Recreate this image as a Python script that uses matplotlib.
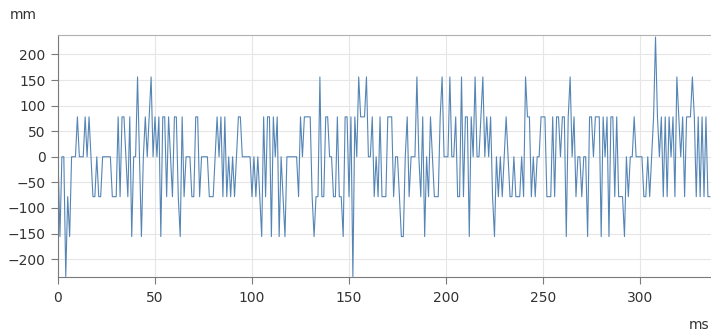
import matplotlib
matplotlib.use("Agg")
import matplotlib.pyplot as plt
import numpy as np

# one sample per ms (mm)
values = [
    0, -156, 0, 0, -234, -78, -156, 0, 0, 0,            # 0-9
    78, 0, 0, 0, 78, 0, 78, 0, -78, -78,                # 10-19
    0, -78, -78, 0, 0, 0, 0, 0, -78, -78,               # 20-29
    -78, 78, -78, 78, 78, 0, -78, 78, -156, 0,          # 30-39
    0, 156, 0, -156, 0, 78, 0, 78, 156, 0,              # 40-49
    78, 0, 78, -156, 78, 78, -78, 78, 0, -78,           # 50-59
    78, 78, -78, -156, 78, -78, 0, 0, 0, -78,           # 60-69
    -78, 78, 78, -78, 0, 0, 0, 0, -78, -78,             # 70-79
    -78, 0, 78, 0, 78, -78, 78, -78, 0, -78,            # 80-89
    0, -78, 0, 78, 78, 0, 0, 0, 0, 0,                   # 90-99
    -78, 0, -78, 0, -78, -156, 78, -78, 78, 78,         # 100-109
    -156, 78, 0, 78, -156, 0, -78, -156, 0, 0,          # 110-119
    0, 0, 0, 0, -78, 78, 0, 78, 78, 78,                 # 120-129
    78, -78, -156, -78, -78, 156, -78, -78, 78, 78,     # 130-139
    0, 0, -78, -78, 78, -78, -78, -156, 78, 78,         # 140-149
    -78, 78, -234, 78, 0, 156, 78, 78, 78, 156,         # 150-159
    0, 0, 78, -78, 0, -78, 78, -78, -78, -78,           # 160-169
    78, 78, 78, -78, 0, 0, -78, -156, -156, 0,          # 170-179
    78, -78, 0, 0, 0, 156, 0, -78, 78, -156,            # 180-189
    0, -78, 78, 0, -78, -78, -78, 78, 156, 0,           # 190-199
    0, 0, 156, 0, 0, 78, -78, -78, 156, -78,            # 200-209
    78, 78, -156, 78, 0, 156, 0, 0, 78, 156,            # 210-219
    0, 78, 0, 78, -78, -156, 0, -78, 0, -78,            # 220-229
    0, 78, 0, -78, -78, 0, -78, -78, -78, 0,            # 230-239
    -78, 156, 78, 78, -78, 0, -78, 0, 0, 78,            # 240-249
    78, 78, -78, -78, -78, 78, -78, 78, 78, 0,          # 250-259
    78, 78, -156, 78, 156, 0, 78, -78, 0, 0,            # 260-269
    -78, 0, 0, -156, 78, 78, 0, 78, 78, 78,             # 270-279
    -156, 78, 0, 78, -156, 78, 78, -78, 78, -78,        # 280-289
    -78, -78, -156, 0, -78, 0, 0, 78, 0, 0,             # 290-299
    0, 0, -78, -78, 0, -78, 0, 78, 234, 78,             # 300-309
    0, 78, -78, 78, -78, 78, 0, 78, -78, 156,           # 310-319
    78, 0, 78, -78, 78, 78, 78, 156, 78, -78,           # 320-329
    78, -78, 78, -78, 78, -78, -78,                     # 330-336
]
ms = np.arange(len(values))

fig = plt.figure(figsize=(7.11, 3.33), dpi=100)
ax = fig.add_axes([58 / 711, (333 - 277) / 333, (711 - 58) / 711, (277 - 35) / 333])

ax.plot(ms, values, color="#5585b5", linewidth=0.8)

ax.set_xlim(0, 336.6)
ax.set_ylim(-235, 238)
ax.set_xticks([0, 50, 100, 150, 200, 250, 300])
ax.set_yticks([-200, -150, -100, -50, 0, 50, 100, 150, 200])

ax.grid(True, color="#e6e6e6", linewidth=0.8)
ax.set_axisbelow(True)

for s in ["left", "bottom", "top"]:
    ax.spines[s].set_color("#7a7a7a")
    ax.spines[s].set_linewidth(0.8)
ax.spines["top"].set_color("#b0b0b0")
ax.spines["right"].set_visible(False)

ax.tick_params(axis="both", colors="#7a7a7a", labelcolor="#333333",
               labelsize=10, length=5, width=0.8)
ax.tick_params(axis="y", pad=4)
ax.tick_params(axis="x", pad=5)

fig.text(10 / 711, 1 - 15 / 333, "mm", fontsize=10, color="#333333",
         ha="left", va="center")
fig.text(709 / 711, 1 - 325 / 333, "ms", fontsize=10, color="#333333",
         ha="right", va="center")

fig.savefig("out.png", dpi=100)
